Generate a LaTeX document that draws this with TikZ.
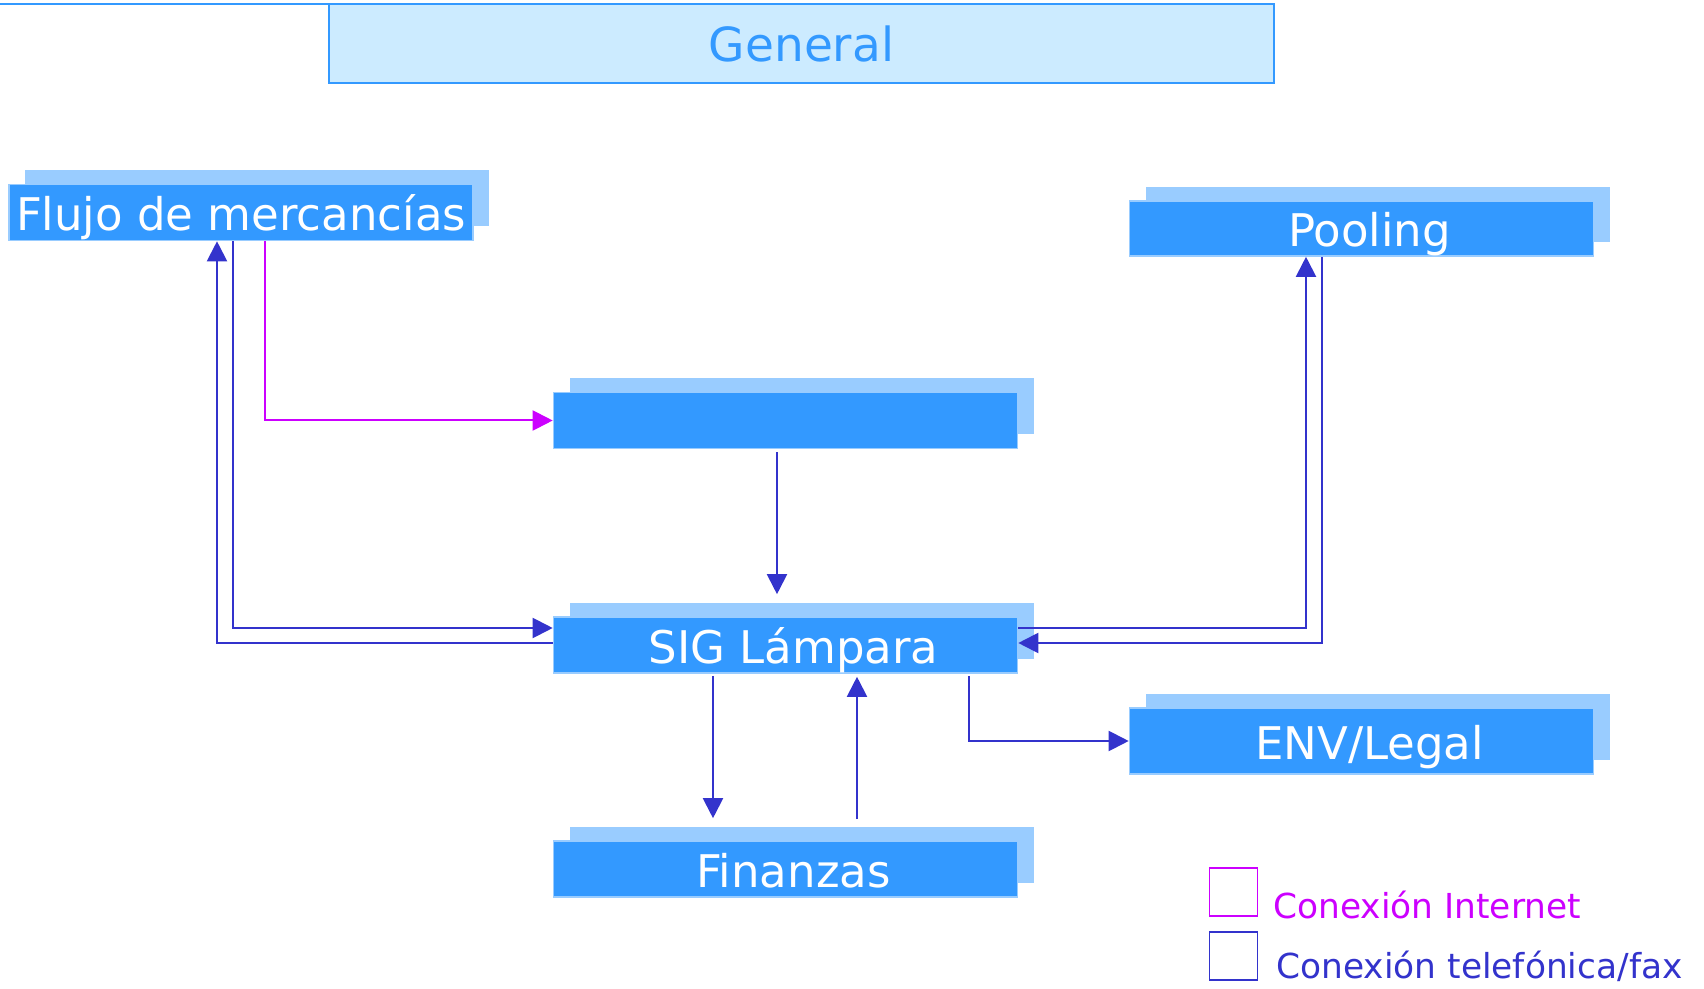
\documentclass[tikz,border=0pt]{standalone}
\usepackage{fontspec}
\setmainfont{DejaVu Sans}
\usetikzlibrary{arrows.meta,shadows,calc}

\definecolor{boxblue}{RGB}{51,153,255}
\definecolor{shadowblue}{RGB}{153,204,255}
\definecolor{generalfill}{RGB}{204,235,255}
\definecolor{telblue}{RGB}{51,51,204}
\definecolor{inetpink}{RGB}{204,0,255}

\begin{document}
\begin{tikzpicture}[x=0.5pt,y=-0.5pt,
  areabox/.style={rectangle, fill=boxblue, draw=shadowblue, line width=0.8pt,
    text=white, inner sep=0pt, minimum width=232pt, minimum height=28pt,
    text height=20pt, text depth=2pt,
    font=\fontsize{22.5}{27}\selectfont,
    copy shadow={shadow xshift=8pt, shadow yshift=7pt, fill=shadowblue, draw=none}},
  shiftedlabel/.style={execute at begin node={\hspace*{8pt}}},
  tel/.style={draw=telblue, line width=1pt, -{Triangle[length=10pt,width=10pt]}},
  inet/.style={tel, draw=inetpink},
  legendbox/.style={rectangle, line width=0.9pt, minimum size=24pt, inner sep=0pt},
  legendtext/.style={anchor=base west, inner sep=0pt, font=\fontsize{17.2}{21}\selectfont}]

  % Page size
  \useasboundingbox (0,0) rectangle (1704,989);

  % Top box
  \draw[boxblue, line width=1pt] (0,4) -- (1274,4);
  \node[rectangle, fill=generalfill, draw=boxblue, line width=1pt, inner sep=0pt,
    minimum width=472.5pt, minimum height=39.5pt, text=boxblue,
    font=\fontsize{23.5}{28}\selectfont] (general) at (801.5,43.5) {General};

  % Areas
  \node[areabox] (flujo) at (241,212.5) {Flujo de mercancías};
  \node[areabox, shiftedlabel, minimum height=27.5pt] (pooling) at (1361.5,228.5) {Pooling};
  \node[areabox] (central) at (785.5,420.5) {};
  \node[areabox, shiftedlabel] (sig) at (785.5,645) {SIG Lámpara};
  \node[areabox, shiftedlabel, minimum height=33pt] (env) at (1361.5,741) {ENV/Legal};
  \node[areabox, shiftedlabel] (finanzas) at (785.5,869) {Finanzas};

  % Where the lines run
  \coordinate (inetX) at (265,0);
  \coordinate (toSigX) at (233,0);
  \coordinate (fromSigX) at (217,0);
  \coordinate (centralX) at (777,0);
  \coordinate (toPoolX) at (1306,0);
  \coordinate (fromPoolX) at (1322,0);
  \coordinate (finDownX) at (713,0);
  \coordinate (finUpX) at (857,0);
  \coordinate (envX) at (969,0);
  \coordinate (upperY) at (0,628);
  \coordinate (lowerY) at (0,643);

  % Internet connection
  \draw[inet] (flujo.south -| inetX) |- (central.west);

  % Telephone/fax connections
  \draw[tel] (flujo.south -| toSigX) |- (sig.west |- upperY);
  \draw[tel] (sig.west |- lowerY) -| (flujo.south -| fromSigX);
  \draw[tel] ($(central.south -| centralX)+(0,3)$) -- ($(sig.north -| centralX)+(0,-22)$);
  \draw[tel] (sig.east |- upperY) -| (pooling.south -| toPoolX);
  \draw[tel] (pooling.south -| fromPoolX) |- (sig.east |- lowerY);
  \draw[tel] ($(sig.south -| finDownX)+(0,2)$) -- ($(finanzas.north -| finDownX)+(0,-22)$);
  \draw[tel] ($(finanzas.north -| finUpX)+(0,-21)$) -- ($(sig.south -| finUpX)+(0,3)$);
  \draw[tel] ($(sig.south -| envX)+(0,2)$) |- (env.west);

  % Legend
  \node[legendbox, draw=inetpink] (leginet) at (1233.5,892) {};
  \node[legendtext, text=inetpink] (leginettext) at (1273,918) {Conexión Internet};
  \node[legendbox, draw=telblue] (legtel) at (1233.5,956) {};
  \node[legendtext, text=telblue] (legteltext) at (1276,978) {Conexión telefónica/fax};

\end{tikzpicture}
\end{document}
